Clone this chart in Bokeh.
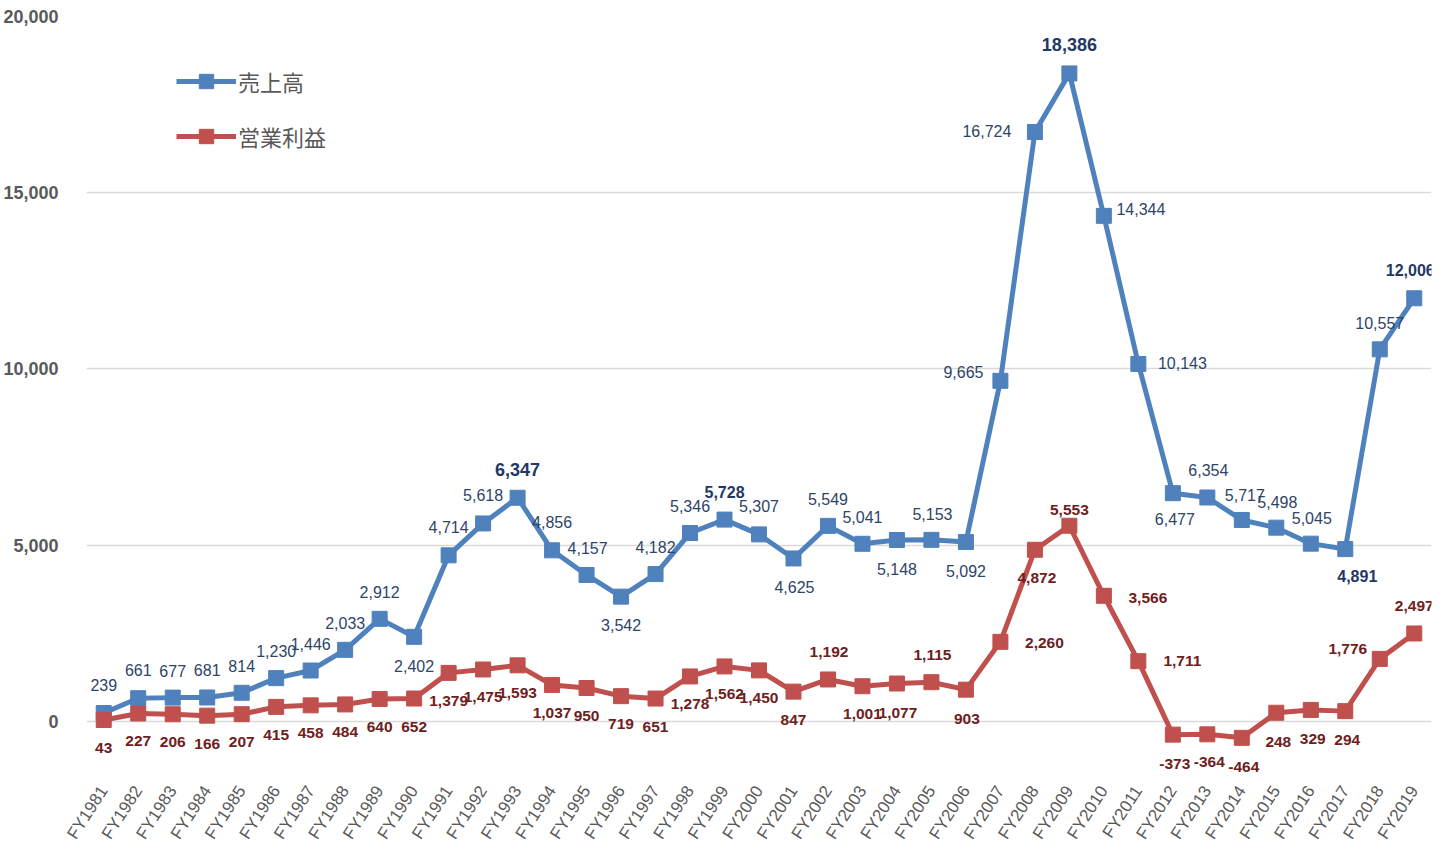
from bokeh.plotting import figure
from bokeh.models import ColumnDataSource, Legend, LegendItem, FactorRange, Range1d, FixedTicker, NumeralTickFormatter
from bokeh.core.properties import value
from bokeh.embed import file_html
from bokeh.resources import INLINE
import math

years = [f"FY{y}" for y in range(1981, 2020)]
sales = [239, 661, 677, 681, 814, 1230, 1446, 2033, 2912, 2402, 4714, 5618, 6347, 4856,
         4157, 3542, 4182, 5346, 5728, 5307, 4625, 5549, 5041, 5148, 5153, 5092, 9665,
         16724, 18386, 14344, 10143, 6477, 6354, 5717, 5498, 5045, 4891, 10557, 12006]
profit = [43, 227, 206, 166, 207, 415, 458, 484, 640, 652, 1379, 1475, 1593, 1037,
          950, 719, 651, 1278, 1562, 1450, 847, 1192, 1001, 1077, 1115, 903, 2260,
          4872, 5553, 3566, 1711, -373, -364, -464, 248, 329, 294, 1776, 2497]
y_ticks = [0, 5000, 10000, 15000, 20000]

# label placement (screen px offsets) - style only
sales_off = [(0, -28), (0, -28), (0, -27), (0, -27), (0, -27), (0, -27), (0, -27), (0, -27),
             (0, -27), (0, 29), (0, -28), (0, -28), (0, -28), (0, -28), (1, -27), (0, 28),
             (0, -27), (0, -27), (0, -28), (0, -28), (1, 29), (0, -27), (0, -27), (0, 29),
             (1, -26), (0, 29), (-37, -9), (-48, -1), (0, -29), (37, -7), (44, -1), (2, 26),
             (1, -28), (3, -25), (1, -26), (1, -26), (12, 27), (0, -26), (-4, -28)]
profit_off = [(0, 28)] * 21 + [(1, -27), (0, 28), (1, 29), (1, -27), (1, 29), (44, 1),
              (2, 28), (0, -16), (44, 2), (44, 0), (2, 29), (2, 28), (2, 29), (2, 29),
              (2, 29), (2, 29), (-32, -10), (0, -27)]
sales_bold_big = {"FY1993", "FY2009"}
sales_bold = {"FY1999", "FY2017", "FY2019"}

BLUE = "#4F81BD"
RED = "#C0504D"
GRAY = "#595959"

p = figure(width=1440, height=850, x_range=FactorRange(factors=years, range_padding=0),
           y_range=Range1d(-1589, 20000), output_backend="svg", toolbar_location=None,
           min_border_left=85, min_border_right=9, min_border_top=16, min_border_bottom=70)
p.outline_line_color = None
p.background_fill_color = None
p.border_fill_color = None

p.xgrid.grid_line_color = None
p.ygrid.grid_line_color = "#D9D9D9"
p.ygrid.grid_line_width = 1.5
p.yaxis.ticker = FixedTicker(ticks=y_ticks)
p.yaxis.formatter = NumeralTickFormatter(format="0,0")
for ax in (p.xaxis, p.yaxis):
    ax.axis_line_color = None
    ax.major_tick_line_color = None
    ax.minor_tick_line_color = None
    ax.major_label_text_color = GRAY
    ax.major_label_text_font = "Liberation Sans"
p.yaxis.major_label_text_font_size = "18px"
p.yaxis.major_label_text_font_style = "bold"
p.yaxis.major_label_standoff = 22
p.xaxis.major_label_text_font_size = "17px"
p.xaxis.major_label_orientation = math.radians(57)
p.xaxis.major_label_standoff = 4

ls = p.line(years, sales, line_color=BLUE, line_width=5)
ms = p.scatter(years, sales, marker="square", size=15, fill_color=BLUE, line_color=BLUE)
lp = p.line(years, profit, line_color=RED, line_width=5)
mp = p.scatter(years, profit, marker="square", size=15, fill_color=RED, line_color=RED)

s_src = ColumnDataSource(dict(
    x=years, y=sales, t=[f"{v:,}" for v in sales],
    dx=[o[0] for o in sales_off], dy=[o[1] for o in sales_off],
    fs=["18px" if y in sales_bold_big else "16px" for y in years],
    fst=["bold" if (y in sales_bold_big or y in sales_bold) else "normal" for y in years],
    col=["#1F3864" if (y in sales_bold_big or y in sales_bold) else "#2E4468" for y in years],
))
p.text(x="x", y="y", text="t", x_offset="dx", y_offset="dy", source=s_src,
       text_font=value("Liberation Sans"), text_font_size="fs", text_font_style="fst",
       text_color="col", text_align="center", text_baseline="middle")

p_src = ColumnDataSource(dict(
    x=years, y=profit, t=[f"{v:,}" for v in profit],
    dx=[o[0] for o in profit_off], dy=[o[1] for o in profit_off],
))
p.text(x="x", y="y", text="t", x_offset="dx", y_offset="dy", source=p_src,
       text_font=value("Liberation Sans"), text_font_size="15.5px", text_font_style="bold",
       text_color="#6E2020", text_align="center", text_baseline="middle")

legend = Legend(items=[LegendItem(label="売上高", renderers=[ls, ms]),
                       LegendItem(label="営業利益", renderers=[lp, mp])],
                location=(90, 623), orientation="vertical")
legend.background_fill_alpha = 0
legend.border_line_color = None
legend.padding = 0
legend.margin = 0
legend.spacing = 19
legend.glyph_width = 60
legend.glyph_height = 36
legend.label_height = 36
legend.label_standoff = 2
legend.label_text_font = "Noto Sans CJK JP"
legend.label_text_font_size = "22px"
legend.label_text_color = GRAY
p.add_layout(legend)

open("out.html", "w").write(file_html(p, INLINE))
